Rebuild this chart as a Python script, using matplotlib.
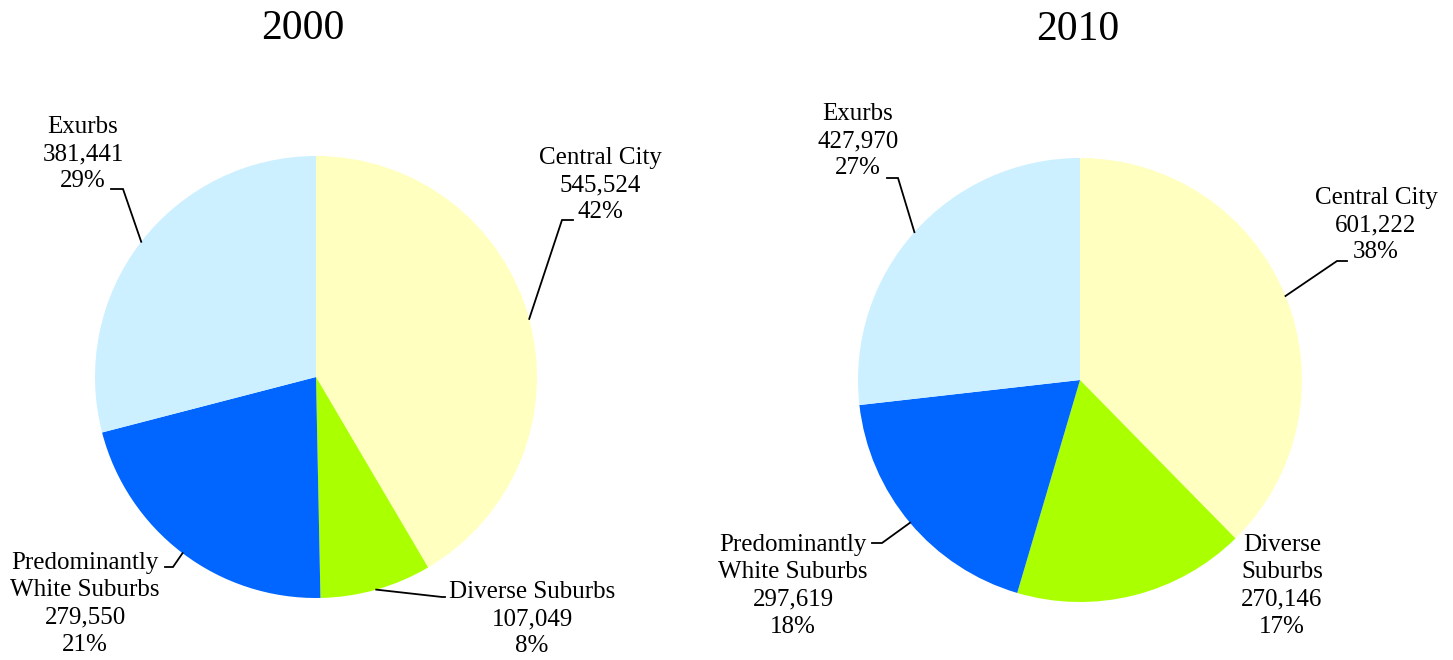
import numpy as np
import matplotlib.pyplot as plt

W, H = 1453, 660

# data
categories = ["Central City", "Diverse Suburbs", "Predominantly White Suburbs", "Exurbs"]
names_2000 = ["Central City", "Diverse Suburbs", "Predominantly\nWhite Suburbs", "Exurbs"]
names_2010 = ["Central City", "Diverse\nSuburbs", "Predominantly\nWhite Suburbs", "Exurbs"]
pop_2000 = [545524, 107049, 279550, 381441]
pop_2010 = [601222, 270146, 297619, 427970]
pct_2000 = [42, 8, 21, 29]
pct_2010 = [38, 17, 18, 27]
colors = ["#FFFFC0", "#AAFF00", "#0066FF", "#CCF0FF"]

plt.rcParams["font.family"] = ["Liberation Serif", "DejaVu Serif"]

# layout in pixel coords (y measured from top)
charts = [
    dict(year="2000", values=pop_2000, pcts=pct_2000, names=names_2000,
         center=(316, 377), radius=221, title_xy=(303, 29),
         label_xy=[(600, 185), (532, 619), (85, 604), (83, 154)],
         elbow=[(562, 220), (442, 597), (173, 567), (123, 189)],
         end=[(573, 220), (445, 597), (165, 567), (111, 189)]),
    dict(year="2010", values=pop_2010, pcts=pct_2010, names=names_2010,
         center=(1080, 380), radius=222, title_xy=(1078, 30),
         label_xy=[(1376, 225), (1282, 586), (793, 586), (858, 141)],
         elbow=[(1337, 261), None, (882, 543), (898, 178)],
         end=[(1347, 261), None, (872, 543), (887, 178)]),
]

fig = plt.figure(figsize=(W / 100, H / 100), dpi=100)
ax = fig.add_axes([0, 0, 1, 1])

for c in charts:
    cx, cy = c["center"]
    r = c["radius"]
    wedges, _ = ax.pie(c["values"], colors=colors, startangle=90, counterclock=False,
                       center=(cx, H - cy), radius=r,
                       wedgeprops=dict(linewidth=0))
    ax.text(c["title_xy"][0], H - c["title_xy"][1], c["year"], fontsize=30,
            ha="center", va="center")
    for i, w in enumerate(wedges):
        lx, ly = c["label_xy"][i]
        txt = f"{c['names'][i]}\n{c['values'][i]:,}\n{c['pcts'][i]}%"
        ax.text(lx, H - ly, txt, fontsize=18, ha="center", va="center",
                multialignment="center", linespacing=1.32)
        if c["elbow"][i] is not None:
            ang = np.deg2rad((w.theta1 + w.theta2) / 2)
            px, py = cx + r * np.cos(ang), (H - cy) + r * np.sin(ang)
            ex, ey = c["elbow"][i]
            tx, ty = c["end"][i]
            ax.plot([px, ex, tx], [py, H - ey, H - ty], color="black", lw=1.3,
                    solid_joinstyle="miter")

ax.set_aspect("auto")
ax.set_xlim(0, W)
ax.set_ylim(0, H)
ax.axis("off")

plt.savefig("out.png", dpi=100)
plt.close()
